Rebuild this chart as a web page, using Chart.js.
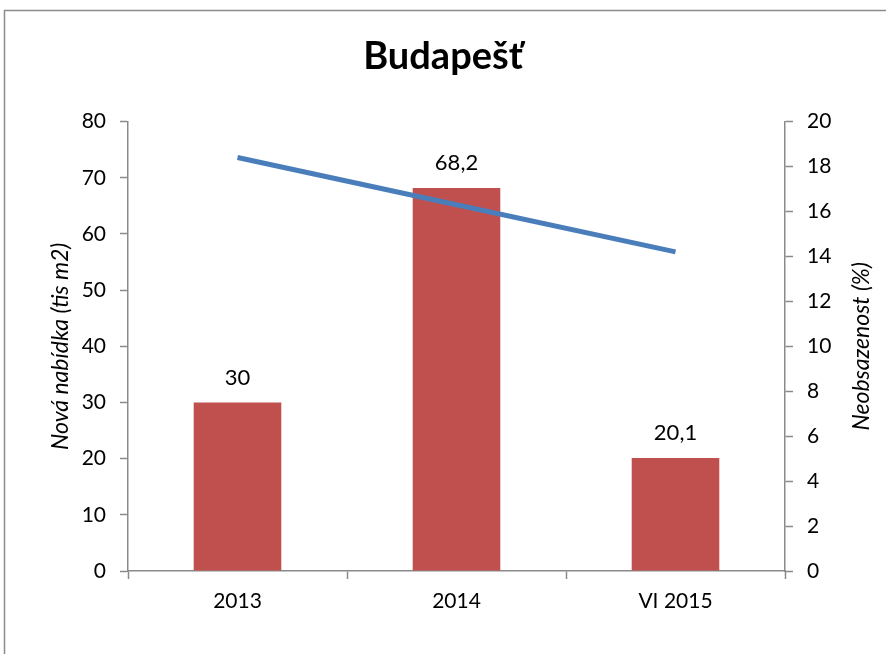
<!DOCTYPE html>
<html>
<head>
<meta charset="utf-8">
<script src="https://cdn.jsdelivr.net/npm/chart.js@4"></script>
<style>
  body { margin: 0; background: #fff; }
  canvas { display: block; }
</style>
</head>
<body>
<canvas id="chart" width="886" height="654"></canvas>
<script>
// chart values
const categories = ["2013", "2014", "VI 2015"];
const novaNabidka = [30, 68.2, 20.1];     // tis m2, bars (left axis)
const neobsazenost = [18.4, 16.3, 14.2];  // %, line (right axis)
const leftTicks = [0, 10, 20, 30, 40, 50, 60, 70, 80];
const rightTicks = [0, 2, 4, 6, 8, 10, 12, 14, 16, 18, 20];

const FONT = "Lato, 'Open Sans', sans-serif";
const axisGray = "#8a8a8a";

// frame around the whole chart (runs off the right and bottom edge)
const framePlugin = {
  id: "frame",
  beforeDraw(chart) {
    const ctx = chart.ctx;
    ctx.save();
    ctx.strokeStyle = "#8c8c8c";
    ctx.lineWidth = 1.5;
    ctx.strokeRect(4.5, 10.5, 1200, 1200);
    ctx.restore();
  },
};

// value labels above the bars + right axis title read bottom-to-top
const labelsPlugin = {
  id: "labels",
  afterDatasetsDraw(chart) {
    const ctx = chart.ctx;
    const idx = chart.data.datasets.findIndex((d) => d.type === "bar");
    const meta = chart.getDatasetMeta(idx);
    ctx.save();
    ctx.font = "22px " + FONT;
    ctx.fillStyle = "#000";
    ctx.textAlign = "center";
    ctx.textBaseline = "middle";
    meta.data.forEach((bar, i) => {
      const v = chart.data.datasets[idx].data[i];
      ctx.fillText(String(v).replace(".", ","), bar.x, bar.y - 25);
    });
    ctx.restore();
  },
  afterDraw(chart) {
    const ctx = chart.ctx;
    const s = chart.scales.y2;
    ctx.save();
    ctx.translate(862, (s.top + s.bottom) / 2);
    ctx.rotate(-Math.PI / 2);
    ctx.font = "italic 23px " + FONT;
    ctx.fillStyle = "#000";
    ctx.textAlign = "center";
    ctx.textBaseline = "middle";
    ctx.fillText("Neobsazenost (%)", 0, 0);
    ctx.restore();
  },
};

new Chart(document.getElementById("chart"), {
  data: {
    labels: categories,
    datasets: [
      {
        type: "line",
        label: "Neobsazenost",
        data: neobsazenost,
        yAxisID: "y2",
        borderColor: "#4A7EBB",
        borderWidth: 5,
        tension: 0,
        pointRadius: 0,
        order: 0,
      },
      {
        type: "bar",
        label: "Nová nabídka",
        data: novaNabidka,
        yAxisID: "y",
        backgroundColor: "#C0504D",
        categoryPercentage: 1,
        barPercentage: 0.4,
        order: 1,
      },
    ],
  },
  options: {
    responsive: false,
    animation: false,
    layout: { padding: 0 },
    plugins: {
      legend: { display: false },
      tooltip: { enabled: false },
      title: {
        display: true,
        text: "Budapešť",
        color: "#000",
        font: { family: FONT, size: 38, weight: "bold", lineHeight: 1.2 },
        padding: { top: 34, bottom: 42 },
      },
    },
    scales: {
      x: {
        grid: {
          offset: true,
          drawOnChartArea: false,
          tickLength: 8,
          tickColor: axisGray,
          tickWidth: 1.5,
        },
        border: { color: axisGray, width: 1.5 },
        ticks: { color: "#000", font: { family: FONT, size: 21 }, padding: 10 },
        afterFit: (s) => { s.height = 83; },
      },
      y: {
        position: "left",
        min: 0,
        max: 80,
        afterBuildTicks: (s) => { s.ticks = leftTicks.map((v) => ({ value: v })); },
        grid: { drawOnChartArea: false, tickLength: 8, tickColor: axisGray, tickWidth: 1.5 },
        border: { color: axisGray, width: 1.5 },
        ticks: { color: "#000", font: { family: FONT, size: 21 }, padding: 14 },
        title: {
          display: true,
          text: "Nová nabídka (tis m2)",
          color: "#000",
          font: { family: FONT, size: 23, style: "italic", lineHeight: 1.2 },
          padding: { top: 47, bottom: 0 },
        },
        afterFit: (s) => { s.width = 128; },
      },
      y2: {
        position: "right",
        min: 0,
        max: 20,
        afterBuildTicks: (s) => { s.ticks = rightTicks.map((v) => ({ value: v })); },
        grid: { drawOnChartArea: false, tickLength: 8, tickColor: axisGray, tickWidth: 1.5 },
        border: { color: axisGray, width: 1.5 },
        ticks: { color: "#000", font: { family: FONT, size: 21 }, padding: 14 },
        afterFit: (s) => { s.width = 101; },
      },
    },
  },
  plugins: [framePlugin, labelsPlugin],
});
</script>
</body>
</html>
